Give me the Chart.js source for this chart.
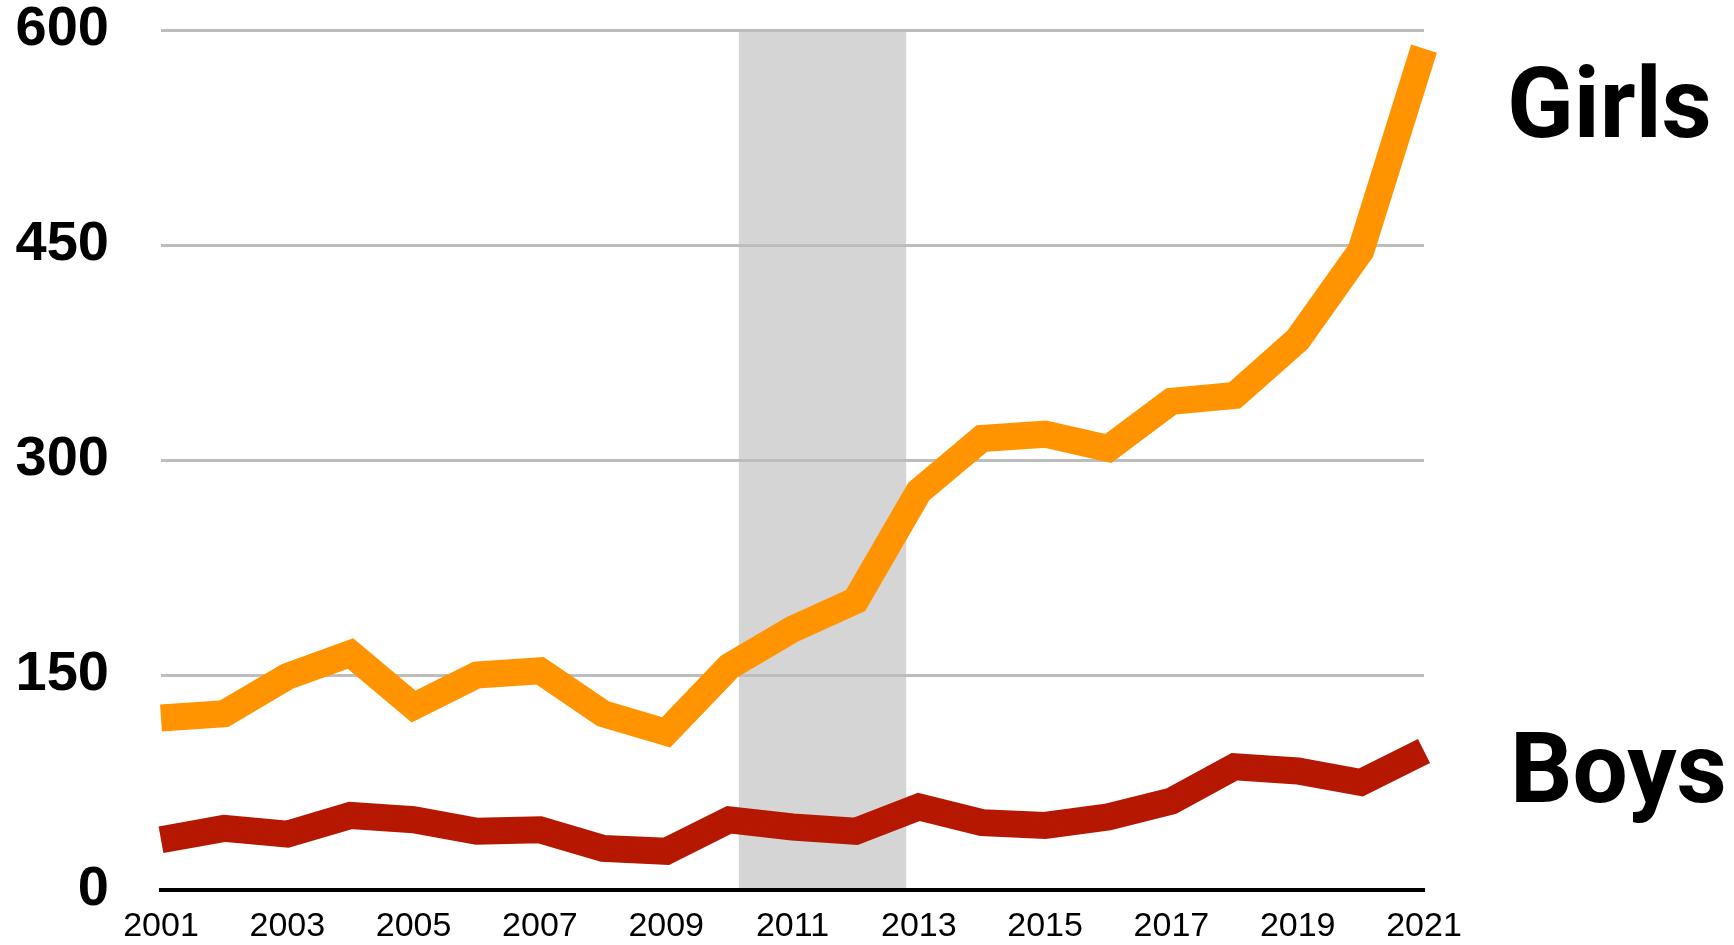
<!DOCTYPE html>
<html>
<head>
<meta charset="utf-8">
<script src="https://cdn.jsdelivr.net/npm/chart.js@4/dist/chart.umd.min.js"></script>
<style>
  html, body { margin: 0; padding: 0; background: #fff; }
  #wrap { width: 1734px; height: 945px; }
</style>
</head>
<body>
<div id="wrap"><canvas id="trendChart" width="1734" height="945"></canvas></div>
<script>
const years = [2001, 2002, 2003, 2004, 2005, 2006, 2007, 2008, 2009, 2010, 2011,
               2012, 2013, 2014, 2015, 2016, 2017, 2018, 2019, 2020, 2021];
const girls = [120, 123, 149, 165, 128, 150, 153, 123, 110, 156, 182,
               202, 278, 315, 318, 308, 341, 345, 384, 446, 587];
const boys = [35, 43, 39, 52, 49, 41, 42, 29, 27, 49, 44,
              41, 58, 47, 45, 51, 62, 86, 83, 75, 97];
const yTicks = [0, 150, 300, 450, 600];
const shadedYears = [2010.15, 2012.8];
const seriesNames = ['Girls', 'Boys'];

const ctx = document.getElementById('trendChart').getContext('2d');

// grey band behind everything
const bandPlugin = {
    id: 'band',
    beforeDraw(chart) {
        const x = chart.scales.x, area = chart.chartArea, c = chart.ctx;
        const x0 = x.getPixelForValue(shadedYears[0]);
        const x1 = x.getPixelForValue(shadedYears[1]);
        c.save();
        c.fillStyle = '#d5d5d5';
        c.fillRect(x0, area.top, x1 - x0, area.bottom - area.top);
        c.restore();
    }
};

// big names at the right
const namePlugin = {
    id: 'names',
    afterDraw(chart) {
        const c = chart.ctx;
        c.save();
        c.fillStyle = '#000';
        c.font = 'bold 98px Roboto';
        c.textAlign = 'left';
        c.textBaseline = 'alphabetic';
        c.fillText(seriesNames[0], 1507, 137);
        c.fillText(seriesNames[1], 1510, 802);
        c.restore();
    }
};

const lineStyle = {
    borderWidth: 27,
    borderJoinStyle: 'miter',
    borderCapStyle: 'butt',
    pointRadius: 0,
    tension: 0,
    clip: false
};

const chart = new Chart(ctx, {
    type: 'line',
    data: {
        datasets: [{
            label: seriesNames[0],
            data: years.map((y, i) => ({ x: y, y: girls[i] })),
            borderColor: '#ff9400',
            ...lineStyle
        }, {
            label: seriesNames[1],
            data: years.map((y, i) => ({ x: y, y: boys[i] })),
            borderColor: '#b51700',
            ...lineStyle
        }]
    },
    options: {
        animation: false,
        responsive: false,
        layout: { autoPadding: false, padding: { top: 30, right: 310, bottom: 0, left: 0 } },
        plugins: {
            legend: { display: false },
            tooltip: { enabled: false }
        },
        scales: {
            x: {
                type: 'linear',
                min: years[0],
                max: years[years.length - 1],
                afterBuildTicks: s => { s.ticks = years.filter((y, i) => i % 2 === 0).map(v => ({ value: v })); },
                afterFit: s => { s.height = 55; },
                ticks: {
                    callback: v => String(v),
                    color: '#000',
                    font: { family: 'Liberation Sans', size: 34, lineHeight: 1.2 },
                    padding: 16,
                    maxRotation: 0
                },
                grid: { display: false, drawTicks: false },
                border: { display: true, color: '#000', width: 4 }
            },
            y: {
                min: 0,
                max: 600,
                afterBuildTicks: s => { s.ticks = yTicks.map(v => ({ value: v })); },
                afterFit: s => { s.width = 161; s.paddingTop = 0; s.paddingBottom = 0; },
                ticks: {
                    color: '#000',
                    font: { family: 'Liberation Sans', size: 56, weight: 'bold', lineHeight: 1 },
                    padding: 52
                },
                grid: {
                    drawTicks: false,
                    color: c => c.tick && c.tick.value === 0 ? 'rgba(0,0,0,0)' : '#bdbdbd',
                    lineWidth: 3
                },
                border: { display: false }
            }
        }
    },
    plugins: [bandPlugin, namePlugin]
});
</script>
</body>
</html>
